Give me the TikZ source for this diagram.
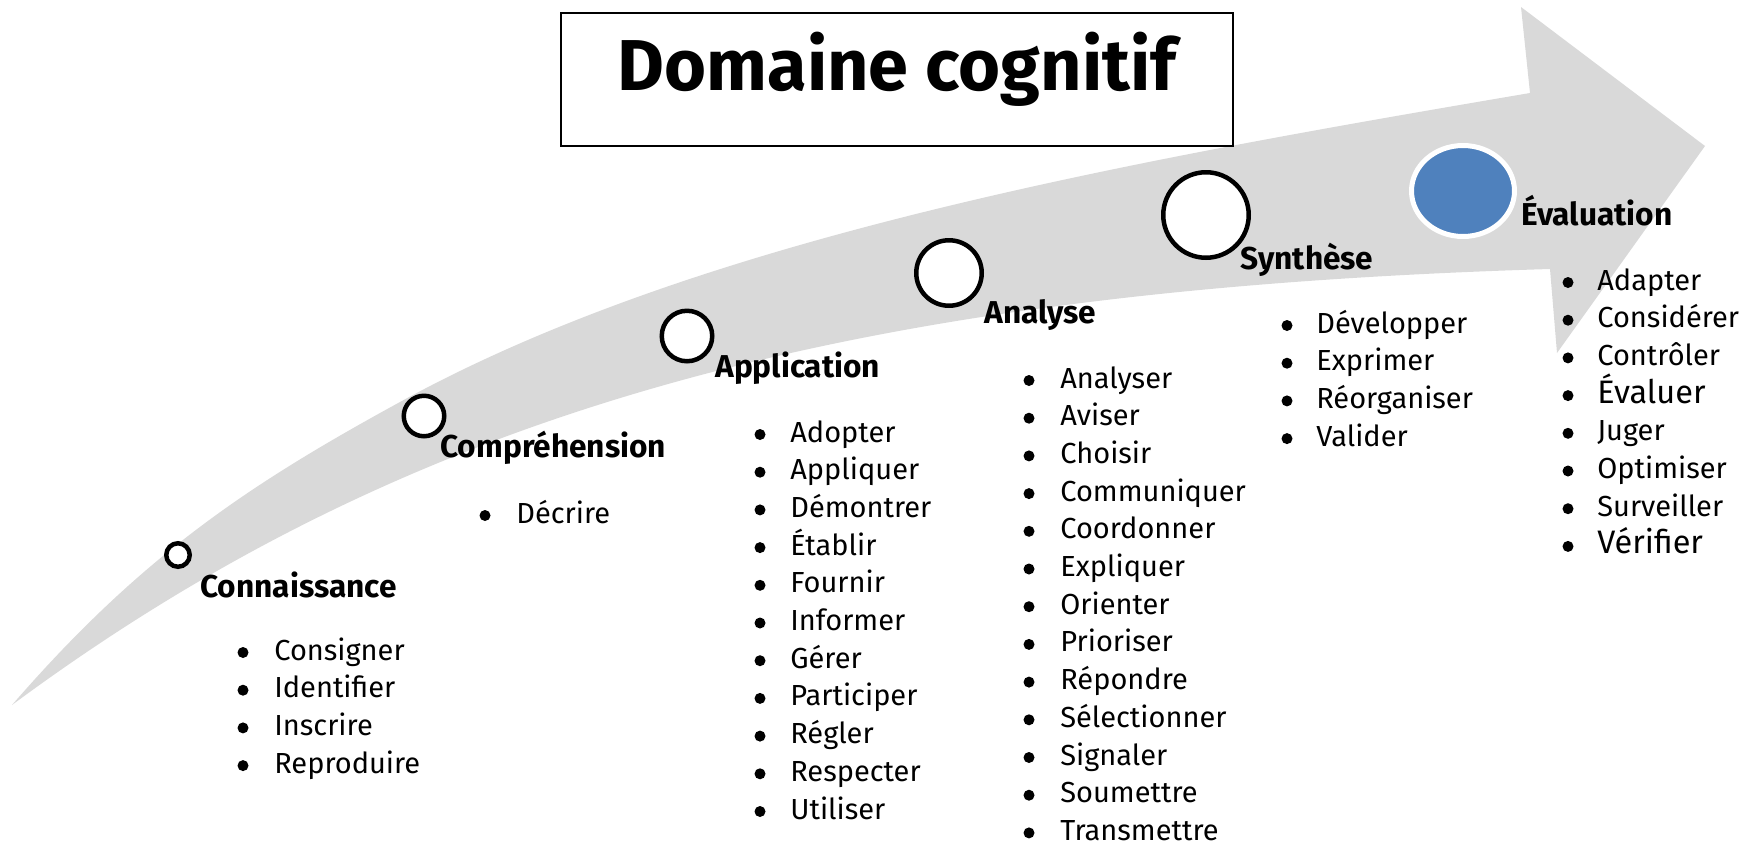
\documentclass[tikz,border=0pt]{standalone}
\usepackage{fontspec}
\setmainfont{Fira Sans}
\usepackage{tikz}
\usetikzlibrary{shapes.geometric}
\definecolor{bandgray}{HTML}{D9D9D9}
\definecolor{evalblue}{HTML}{4F81BD}
\tikzset{
  ring/.style={circle, draw=black, fill=white, line width=0.09cm, inner sep=0pt},
  stage/.style={anchor=base west, inner sep=0pt, font=\bfseries\fontsize{18}{22}\selectfont},
  verb/.style={anchor=base west, inner sep=0pt, font=\fontsize{16.5}{20}\selectfont},
  titlebox/.style={draw, line width=0.035cm, minimum width=13.44cm, minimum height=2.66cm, inner sep=0pt}
}

\begin{document}
\begin{tikzpicture}[x=0.02cm, y=-0.02cm]
	\useasboundingbox (0,0) rectangle (1756,846);

	% grey arrow
	\fill[bandgray] (12,705) .. controls (142,555) and (250,484) .. (400,402)
		.. controls (700,237) and (1130,161) .. (1530,93)
		-- (1521,7) -- (1705,146) -- (1557,353) -- (1550,269)
		.. controls (850,290) and (412,409) .. (12,705) -- cycle;

	% title
	\node[titlebox] (title) at (897,79.5) {};
	\node[anchor=base, inner sep=0pt, font=\bfseries\fontsize{41}{48}\selectfont] (titletext) at (897,90) {Domaine cognitif};

	% levels
	\node[ring, minimum size=0.47cm] (conn) at (178,555) {};
	\node[ring, minimum size=0.81cm] (comp) at (424,416) {};
	\node[ring, minimum size=1.01cm] (appl) at (687,336) {};
	\node[ring, minimum size=1.31cm] (anal) at (949,273) {};
	\node[ring, minimum size=1.71cm] (synt) at (1206,215) {};
	\node[ellipse, draw=white, fill=evalblue, line width=0.1cm, inner sep=0pt,
		minimum width=2.06cm, minimum height=1.82cm] (eval) at (1463,191) {};

	\node[stage] (conn-label) at (200,597) {Connaissance};
	\node[stage] (comp-label) at (440,457) {Compréhension};
	\node[stage] (appl-label) at (715,377) {Application};
	\node[stage] (anal-label) at (984,323) {Analyse};
	\node[stage] (synt-label) at (1240,269) {Synthèse};
	\node[stage] (eval-label) at (1521,225) {Évaluation};

	% verbs
	\foreach \w [count=\i from 0] in {Consigner,Identifier,Inscrire,Reproduire}{
		\fill (243,{652.5+37.7*\i}) circle (5.5);
		\node[verb] (conn-\i) at (274,{660+37.7*\i}) {\w};
	}
	\foreach \w [count=\i from 0] in {Décrire}{
		\fill (485,{515.5+37.7*\i}) circle (5.5);
		\node[verb] (comp-\i) at (516,{523+37.7*\i}) {\w};
	}
	\foreach \w [count=\i from 0] in {Adopter,Appliquer,Démontrer,Établir,Fournir,Informer,Gérer,Participer,Régler,Respecter,Utiliser}{
		\fill (760,{434.5+37.7*\i}) circle (5.5);
		\node[verb] (appl-\i) at (790,{442+37.7*\i}) {\w};
	}
	\foreach \w [count=\i from 0] in {Analyser,Aviser,Choisir,Communiquer,Coordonner,Expliquer,Orienter,Prioriser,Répondre,Sélectionner,Signaler,Soumettre,Transmettre}{
		\fill (1029,{380.5+37.7*\i}) circle (5.5);
		\node[verb] (anal-\i) at (1060,{388+37.7*\i}) {\w};
	}
	\foreach \w [count=\i from 0] in {Développer,Exprimer,Réorganiser,Valider}{
		\fill (1287,{325.5+37.7*\i}) circle (5.5);
		\node[verb] (synt-\i) at (1316,{333+37.7*\i}) {\w};
	}
	\foreach \w [count=\i from 0] in {Adapter,Considérer,Contrôler,{\fontsize{18.5}{22}\selectfont Évaluer},Juger,Optimiser,Surveiller,{\fontsize{18.5}{22}\selectfont Vérifier}}{
		\fill (1568,{282.5+37.7*\i}) circle (5.5);
		\node[verb] (eval-\i) at (1597,{290+37.7*\i}) {\w};
	}

\end{tikzpicture}
\end{document}
